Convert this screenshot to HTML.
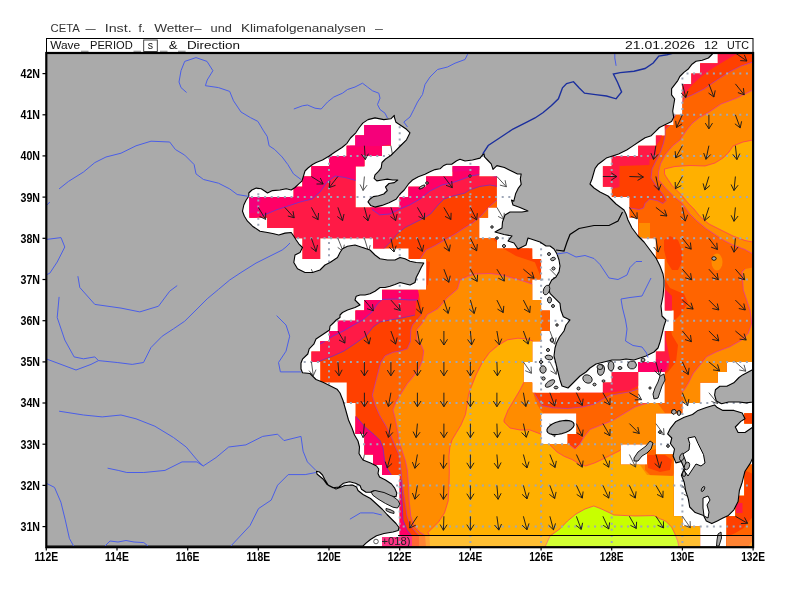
<!DOCTYPE html>
<html><head><meta charset="utf-8"><style>
html,body{margin:0;padding:0;background:#fff;width:800px;height:600px;overflow:hidden}
svg{display:block}
.t{font-family:"Liberation Sans","DejaVu Sans",sans-serif}
</style></head><body>
<svg width="800" height="600" viewBox="0 0 800 600">
<defs><clipPath id="map"><rect x="46.3" y="53.0" width="706.8" height="494.2"/></clipPath>
<clipPath id="mask"><path d="M311.4,166.2 L311.4,176.5 L302.5,176.5 L302.5,186.8 L293.7,186.8 L293.7,197.1 L249.5,197.1 L249.5,217.7 L267.2,217.7 L267.2,228.0 L293.7,228.0 L293.7,238.3 L302.5,238.3 L302.5,258.9 L320.2,258.9 L320.2,238.3 L373.2,238.3 L373.2,248.6 L408.5,248.6 L408.5,258.9 L426.2,258.9 L426.2,289.8 L382.0,289.8 L382.0,300.1 L364.4,300.1 L364.4,310.4 L355.5,310.4 L355.5,320.7 L337.9,320.7 L337.9,331.0 L329.0,331.0 L329.0,341.3 L320.2,341.3 L320.2,351.6 L311.4,351.6 L311.4,361.9 L320.2,361.9 L320.2,382.4 L346.7,382.4 L346.7,403.0 L355.5,403.0 L355.5,433.9 L364.4,433.9 L364.4,454.5 L373.2,454.5 L373.2,464.8 L382.0,464.8 L382.0,475.1 L399.7,475.1 L399.7,536.9 L382.0,536.9 L382.0,547.2 L700.1,547.2 L700.1,526.6 L682.4,526.6 L682.4,516.3 L673.6,516.3 L673.6,454.5 L655.9,454.5 L655.9,413.3 L682.4,413.3 L682.4,403.0 L700.1,403.0 L700.1,382.4 L717.8,382.4 L717.8,372.1 L726.6,372.1 L726.6,361.9 L753.1,361.9 L753.1,53.0 L717.8,53.0 L717.8,63.3 L700.1,63.3 L700.1,73.6 L691.3,73.6 L691.3,83.9 L682.4,83.9 L682.4,114.8 L673.6,114.8 L673.6,125.1 L664.8,125.1 L664.8,135.4 L655.9,135.4 L655.9,145.7 L638.2,145.7 L638.2,155.9 L611.7,155.9 L611.7,166.2 L602.9,166.2 L602.9,186.8 L611.7,186.8 L611.7,197.1 L629.4,197.1 L629.4,217.7 L638.2,217.7 L638.2,238.3 L655.9,238.3 L655.9,258.9 L664.8,258.9 L664.8,310.4 L673.6,310.4 L673.6,331.0 L664.8,331.0 L664.8,351.6 L655.9,351.6 L655.9,361.9 L638.2,361.9 L638.2,372.1 L611.7,372.1 L611.7,382.4 L602.9,382.4 L602.9,392.7 L532.2,392.7 L532.2,382.4 L523.4,382.4 L523.4,361.9 L532.2,361.9 L532.2,341.3 L541.1,341.3 L541.1,331.0 L549.9,331.0 L549.9,310.4 L541.1,310.4 L541.1,300.1 L532.2,300.1 L532.2,279.5 L541.1,279.5 L541.1,258.9 L532.2,258.9 L532.2,248.6 L496.9,248.6 L496.9,238.3 L479.2,238.3 L479.2,217.7 L488.1,217.7 L488.1,207.4 L496.9,207.4 L496.9,176.5 L479.2,176.5 L479.2,166.2 L452.7,166.2 L452.7,176.5 L426.2,176.5 L426.2,186.8 L408.5,186.8 L408.5,197.1 L399.7,197.1 L399.7,207.4 L355.5,207.4 L355.5,166.2 L364.4,166.2 L364.4,155.9 L382.0,155.9 L382.0,145.7 L390.9,145.7 L390.9,125.1 L364.4,125.1 L364.4,135.4 L355.5,135.4 L355.5,145.7 L346.7,145.7 L346.7,155.9 L329.0,155.9 L329.0,166.2Z M638.2,372.1 L664.8,372.1 L664.8,403.0 L638.2,403.0Z M620.6,444.2 L647.1,444.2 L647.1,464.8 L620.6,464.8Z M541.1,444.2 L541.1,413.3 L576.4,413.3 L576.4,433.9 L567.6,433.9 L567.6,444.2Z M753.1,423.6 L753.1,413.3 L744.3,413.3 L744.3,423.6Z M726.6,516.3 L726.6,547.2 L753.1,547.2 L753.1,464.8 L744.3,464.8 L744.3,495.7 L735.4,495.7 L735.4,516.3Z"/></clipPath></defs>
<g clip-path="url(#map)">
<rect x="46.3" y="53.0" width="706.8" height="494.2" fill="#fff"/>
<g clip-path="url(#mask)">
<rect x="46.3" y="53.0" width="706.8" height="494.2" fill="#ff4000"/>
<polygon points="412.0,547.0 412.0,536.0 407.0,530.0 403.0,520.0 402.0,500.0 401.0,480.0 392.0,476.0 388.0,470.0 384.5,460.0 383.0,448.0 380.0,440.5 374.0,434.5 365.0,427.0 356.0,416.5 300.0,416.0 300.0,366.0 310.0,366.0 320.0,361.0 333.0,356.0 344.0,351.0 356.0,343.0 367.0,335.0 373.0,327.0 380.0,322.0 390.0,320.0 402.0,318.0 415.0,315.0 416.0,305.0 417.0,290.0 425.0,285.0 425.0,262.0 400.0,262.0 395.0,250.0 384.0,248.5 390.0,242.5 397.5,233.5 405.0,227.5 414.0,223.0 423.0,218.5 430.5,214.0 438.0,205.0 444.0,199.0 453.0,196.0 465.0,193.0 469.5,190.0 479.5,186.5 490.0,185.0 500.0,187.0 515.0,195.0 520.0,100.0 46.0,53.0 46.0,547.0" fill="#ff1a46"/>
<polygon points="560.0,393.0 603.0,393.0 615.0,392.0 630.0,390.0 640.0,385.0 650.0,378.0 660.0,372.0 668.0,370.0 670.0,360.0 668.0,350.0 666.0,340.0 666.0,320.0 672.0,310.0 672.0,296.0 666.0,290.0 600.0,300.0 560.0,380.0" fill="#ff1a46"/>
<polygon points="740.0,53.0 733.0,56.0 723.0,62.0 713.0,68.0 702.0,76.0 693.0,84.0 686.0,92.0 680.0,100.0 665.0,128.0 660.0,140.0 656.0,146.0 656.0,157.0 649.5,160.0 649.5,165.0 619.5,166.0 619.5,187.0 600.0,192.0 590.0,150.0 700.0,53.0" fill="#ff1a46"/>
<polygon points="240.0,222.0 262.0,216.0 276.0,210.0 288.0,206.0 300.0,202.0 312.0,199.0 320.0,192.0 327.0,182.0 335.0,176.0 345.0,177.5 356.0,180.5 368.0,190.0 380.0,150.0 420.0,100.0 240.0,100.0" fill="#ff0066"/>
<polygon points="368.0,205.0 372.0,209.5 379.5,214.8 390.0,214.0 399.0,209.5 409.5,205.0 420.0,199.0 430.0,191.0 442.0,185.0 452.5,182.7 463.0,179.0 470.5,176.0 479.5,174.5 490.0,175.0 500.0,178.0 510.0,185.0 510.0,150.0 368.0,150.0" fill="#ff0066"/>
<polygon points="300.0,356.0 310.0,350.0 322.0,343.0 333.0,336.0 344.0,330.7 353.0,325.3 362.7,320.0 372.0,312.0 377.3,304.0 382.0,299.5 395.0,299.0 410.0,300.0 418.0,300.0 420.0,290.0 330.0,290.0 300.0,330.0" fill="#ff0066"/>
<polygon points="356.0,416.5 365.0,427.0 374.0,434.5 380.0,440.5 383.0,448.0 384.5,460.0 388.0,470.0 392.0,476.0 401.0,480.0 402.0,500.0 403.0,520.0 407.0,530.0 412.0,536.0 412.0,547.0 340.0,547.0 340.0,410.0" fill="#ff0066"/>
<polygon points="638.0,372.0 665.0,372.0 668.0,362.0 640.0,355.0 638.0,362.0" fill="#ff0066"/>
<polygon points="350.0,147.0 365.0,146.0 380.0,146.0 395.0,144.0 400.0,110.0 350.0,110.0" fill="#f5007a"/>
<polygon points="246.0,196.0 262.0,196.0 258.0,212.0 246.0,214.0" fill="#f5007a"/>
<polygon points="450.0,172.0 482.0,170.0 482.0,160.0 450.0,160.0" fill="#f5007a"/>
<polygon points="419.0,547.0 419.0,535.5 416.0,532.5 410.0,525.0 407.0,516.0 404.8,501.0 402.5,486.0 401.0,471.0 399.5,456.0 395.0,446.0 391.0,436.0 386.0,426.0 380.0,416.0 375.0,405.0 372.3,395.3 375.8,381.3 378.2,372.0 380.5,362.7 385.2,355.7 393.3,352.2 400.0,351.0 405.0,349.5 407.3,348.7 410.3,341.7 410.8,330.0 412.5,325.0 417.0,320.0 421.5,314.5 420.0,300.0 418.0,290.0 428.0,285.0 430.0,262.0 420.0,259.0 426.0,250.0 435.0,245.5 445.5,239.5 456.0,233.5 465.0,227.5 472.5,223.0 480.0,217.0 490.0,206.0 497.0,200.0 530.0,250.0 550.0,300.0 555.0,360.0 545.0,385.0 534.5,393.5 542.0,405.5 552.5,407.8 567.5,408.5 582.5,407.0 594.5,404.0 602.0,399.5 611.0,395.0 620.0,393.5 629.0,392.0 638.0,389.0 644.0,386.0 655.0,382.0 668.0,372.0 676.0,362.0 678.0,345.0 672.0,335.0 670.0,325.0 680.0,315.0 688.0,303.0 684.0,294.0 670.0,288.0 665.0,280.0 650.0,250.0 630.0,215.0 630.0,208.0 639.0,209.5 643.5,208.0 645.0,203.5 649.5,199.0 657.0,200.5 663.0,203.5 666.0,200.5 663.0,194.5 657.0,187.0 651.0,178.0 652.0,169.0 656.0,161.0 660.5,152.0 663.5,143.0 665.0,135.5 665.0,129.5 670.0,125.0 684.5,98.0 692.0,95.0 704.0,89.0 717.0,80.0 729.0,72.0 741.0,66.0 753.0,62.0 753.0,547.0" fill="#ff6400"/>
<polygon points="494.0,240.0 504.0,249.0 516.0,256.0 528.0,260.0 540.0,264.0 548.0,262.0 545.0,235.0 494.0,228.0" fill="#ff4000"/>
<polygon points="664.0,240.0 670.0,236.0 678.0,240.0 682.0,250.0 682.0,262.0 678.0,270.0 672.0,270.0 667.0,262.0 664.0,250.0" fill="#ff4000"/>
<polygon points="568.0,434.0 578.0,434.0 584.0,440.0 582.0,448.0 575.0,449.0 568.0,444.0" fill="#ff4000"/>
<polygon points="426.0,547.0 425.0,535.5 420.5,532.5 414.5,526.5 410.8,516.0 409.2,501.0 408.5,486.0 407.5,471.0 405.5,461.0 402.5,452.0 399.5,443.0 398.0,432.5 396.5,425.0 395.0,417.5 393.0,410.0 396.0,402.0 401.5,393.0 407.3,383.7 413.2,376.7 419.0,368.5 422.5,360.3 423.7,351.0 421.3,345.2 416.7,339.3 417.0,329.5 423.0,322.0 427.5,314.5 438.0,308.5 447.0,298.0 457.5,289.0 460.0,280.0 467.5,276.5 475.0,274.0 490.0,273.5 502.0,275.0 512.5,278.0 523.0,281.0 532.0,284.0 545.0,286.0 545.0,305.0 541.0,305.0 541.0,331.0 560.0,331.0 560.0,390.0 533.0,392.0 536.0,402.5 540.5,410.0 545.0,415.0 545.0,440.0 567.5,443.0 575.0,449.0 579.5,444.5 584.0,437.0 590.0,429.5 597.5,426.5 605.0,423.5 612.5,420.5 620.0,416.0 627.5,411.5 635.0,407.0 644.0,404.0 650.0,402.5 657.0,402.5 665.0,413.0 753.0,413.0 753.0,547.0" fill="#ff8c00"/>
<polygon points="753.0,267.5 745.0,269.0 742.0,272.0 743.3,290.0 746.7,300.0 750.0,310.0 751.7,323.3 748.3,333.3 741.7,340.0 730.0,346.7 716.7,351.7 706.7,356.7 700.0,365.0 693.3,373.3 688.3,383.3 684.0,390.0 681.7,392.0 684.0,402.5 690.0,412.0 753.0,412.0" fill="#ff8c00"/>
<polygon points="753.0,90.0 737.0,98.0 721.0,104.0 710.0,111.5 699.5,117.5 692.0,123.5 686.0,131.0 680.0,140.0 672.5,146.0 665.0,155.0 660.5,164.0 658.5,172.0 658.5,179.5 666.0,188.5 675.0,197.5 682.0,203.0 689.5,213.5 697.0,221.0 706.0,228.5 715.0,234.5 724.0,240.5 733.0,245.0 745.0,249.5 753.0,254.0" fill="#ff8c00"/>
<polygon points="639.0,223.0 650.0,223.0 650.0,238.0 639.0,238.0" fill="#ff8c00"/>
<polygon points="645.0,452.0 660.0,448.0 674.0,452.0 676.0,470.0 670.0,480.0 655.0,480.0 645.0,470.0" fill="#ff6400"/>
<polygon points="647.0,455.0 665.0,455.0 672.0,460.0 670.0,470.0 660.0,472.0 648.0,468.0" fill="#ff4000"/>
<polygon points="744.0,413.0 753.0,413.0 753.0,547.0 726.0,547.0 726.0,516.0 735.0,516.0 735.0,496.0 744.0,496.0" fill="#ff4000"/>
<polygon points="726.0,537.0 735.0,533.3 743.3,528.3 748.3,521.7 753.0,516.7 753.0,547.0 726.0,547.0" fill="#ff6400"/>
<polygon points="744.0,464.0 753.0,464.0 753.0,474.0 744.0,470.0" fill="#ff6400"/>
<polygon points="736.0,503.0 742.5,503.0 742.5,513.0 736.0,513.0" fill="#ff1a46"/>
<polygon points="748.0,547.0 753.0,540.0 753.0,547.0" fill="#ff8c00"/>
<polygon points="430.0,547.0 429.5,535.5 428.0,532.5 431.0,529.5 438.5,522.0 444.5,513.0 448.2,501.0 449.0,486.0 449.3,471.0 449.0,456.0 449.8,447.5 452.0,440.0 456.5,432.5 461.0,425.0 465.5,414.5 467.0,405.5 468.5,395.0 470.0,390.0 476.0,375.0 482.0,363.0 489.5,352.5 498.5,345.0 507.5,339.8 518.0,338.2 527.0,339.0 533.0,341.0 545.0,343.0 545.0,380.0 533.0,381.0 524.0,382.0 520.0,390.0 514.0,400.0 508.0,410.0 504.0,420.0 504.0,422.0 510.0,428.0 520.0,430.0 530.0,430.0 540.5,434.0 549.5,444.5 557.0,452.0 564.5,456.5 572.0,459.5 579.5,464.0 585.5,466.0 594.5,463.0 602.0,459.5 611.0,455.0 620.0,450.5 622.0,448.0 640.0,465.0 647.0,475.0 674.0,476.0 676.0,500.0 700.0,520.0 700.0,547.0" fill="#ffb000"/>
<polygon points="753.0,140.0 743.0,142.0 733.0,146.0 729.0,152.0 723.0,158.0 715.0,163.0 705.0,166.0 690.0,165.5 675.0,166.5 664.5,169.0 664.5,174.0 666.0,176.5 672.0,185.5 681.0,194.5 688.0,203.0 694.0,209.0 700.0,216.5 709.0,224.0 721.0,230.0 733.0,236.0 745.0,240.5 753.0,242.0" fill="#ffb000"/>
<polygon points="722.5,262.0 722.1,265.3 720.9,268.0 719.1,269.9 717.0,270.5 714.9,269.9 713.1,268.0 711.9,265.3 711.5,262.0 711.9,258.7 713.1,256.0 714.9,254.1 717.0,253.5 719.1,254.1 720.9,256.0 722.1,258.7" fill="#ff8c00"/>
<polygon points="545.0,547.0 550.0,536.0 560.0,528.8 567.5,521.0 576.0,514.0 585.0,509.0 593.8,506.0 601.0,508.8 610.0,513.0 613.8,515.0 635.0,516.0 654.0,515.6 660.0,518.8 665.5,521.0 671.5,527.0 674.5,533.0 677.5,540.5 679.0,547.0" fill="#c8ff00"/>
<polyline points="429.5,535.5 428.0,532.5 431.0,529.5 438.5,522.0 444.5,513.0 448.2,501.0 449.0,486.0 449.3,471.0 449.0,456.0 449.8,447.5 452.0,440.0 456.5,432.5 461.0,425.0 465.5,414.5 467.0,405.5 468.5,395.0 470.0,390.0 476.0,375.0 482.0,363.0 489.5,352.5 498.5,345.0 507.5,339.8 518.0,338.2 527.0,339.0 533.0,341.0" fill="none" stroke="#ff2a6a" stroke-width="0.8" stroke-opacity="0.85"/>
<polyline points="524.0,382.0 520.0,390.0 514.0,400.0 508.0,410.0 504.0,420.0 504.0,422.0 510.0,428.0 520.0,430.0 530.0,430.0 540.5,434.0 549.5,444.5 557.0,452.0 564.5,456.5 572.0,459.5 579.5,464.0 585.5,466.0 594.5,463.0 602.0,459.5 611.0,455.0 620.0,450.5 622.0,448.0" fill="none" stroke="#ff2a6a" stroke-width="0.8" stroke-opacity="0.85"/>
<polyline points="753.0,140.0 743.0,142.0 733.0,146.0 729.0,152.0 723.0,158.0 715.0,163.0 705.0,166.0 690.0,165.5 675.0,166.5 664.5,169.0 664.5,174.0 666.0,176.5 672.0,185.5 681.0,194.5 688.0,203.0 694.0,209.0 700.0,216.5 709.0,224.0 721.0,230.0 733.0,236.0 745.0,240.5 753.0,242.0" fill="none" stroke="#ff2a6a" stroke-width="0.8" stroke-opacity="0.85"/>
<polyline points="425.0,535.5 420.5,532.5 414.5,526.5 410.8,516.0 409.2,501.0 408.5,486.0 407.5,471.0 405.5,461.0 402.5,452.0 399.5,443.0 398.0,432.5 396.5,425.0 395.0,417.5 393.0,410.0 396.0,402.0 401.5,393.0 407.3,383.7 413.2,376.7 419.0,368.5 422.5,360.3 423.7,351.0 421.3,345.2 416.7,339.3 417.0,329.5 423.0,322.0 427.5,314.5 438.0,308.5 447.0,298.0 457.5,289.0 460.0,280.0 467.5,276.5 475.0,274.0 490.0,273.5 502.0,275.0 512.5,278.0 523.0,281.0 532.0,284.0" fill="none" stroke="#e030b0" stroke-width="0.8" stroke-opacity="0.85"/>
<polyline points="567.5,443.0 575.0,449.0 579.5,444.5 584.0,437.0 590.0,429.5 597.5,426.5 605.0,423.5 612.5,420.5 620.0,416.0 627.5,411.5 635.0,407.0 644.0,404.0 650.0,402.5 657.0,402.5" fill="none" stroke="#e030b0" stroke-width="0.8" stroke-opacity="0.85"/>
<polyline points="745.0,269.0 742.0,272.0 743.3,290.0 746.7,300.0 750.0,310.0 751.7,323.3 748.3,333.3 741.7,340.0 730.0,346.7 716.7,351.7 706.7,356.7 700.0,365.0 693.3,373.3 688.3,383.3 684.0,390.0 681.7,392.0" fill="none" stroke="#e030b0" stroke-width="0.8" stroke-opacity="0.85"/>
<polyline points="753.0,90.0 737.0,98.0 721.0,104.0 710.0,111.5 699.5,117.5 692.0,123.5 686.0,131.0 680.0,140.0 672.5,146.0 665.0,155.0 660.5,164.0 658.5,172.0 658.5,179.5 666.0,188.5 675.0,197.5 682.0,203.0 689.5,213.5 697.0,221.0 706.0,228.5 715.0,234.5 724.0,240.5 733.0,245.0 745.0,249.5 753.0,254.0" fill="none" stroke="#e030b0" stroke-width="0.8" stroke-opacity="0.85"/>
<polyline points="419.0,535.5 416.0,532.5 410.0,525.0 407.0,516.0 404.8,501.0 402.5,486.0 401.0,471.0 399.5,456.0 395.0,446.0 391.0,436.0 386.0,426.0 380.0,416.0 375.0,405.0 372.3,395.3 375.8,381.3 378.2,372.0 380.5,362.7 385.2,355.7 393.3,352.2 400.0,351.0 405.0,349.5 407.3,348.7 410.3,341.7 410.8,330.0 412.5,325.0 417.0,320.0 421.5,314.5" fill="none" stroke="#b030d0" stroke-width="0.8" stroke-opacity="0.85"/>
<polyline points="420.0,259.0 426.0,250.0 435.0,245.5 445.5,239.5 456.0,233.5 465.0,227.5 472.5,223.0 480.0,217.0 490.0,206.0 497.0,200.0" fill="none" stroke="#b030d0" stroke-width="0.8" stroke-opacity="0.85"/>
<polyline points="534.5,393.5 542.0,405.5 552.5,407.8 567.5,408.5 582.5,407.0 594.5,404.0 602.0,399.5 611.0,395.0 620.0,393.5 629.0,392.0 638.0,389.0 644.0,386.0" fill="none" stroke="#b030d0" stroke-width="0.8" stroke-opacity="0.85"/>
<polyline points="630.0,208.0 639.0,209.5 643.5,208.0 645.0,203.5 649.5,199.0 657.0,200.5 663.0,203.5 666.0,200.5 663.0,194.5 657.0,187.0 651.0,178.0 652.0,169.0 656.0,161.0 660.5,152.0 663.5,143.0 665.0,135.5 665.0,129.5 670.0,125.0 684.5,98.0 692.0,95.0 704.0,89.0 717.0,80.0 729.0,72.0 741.0,66.0 753.0,62.0" fill="none" stroke="#b030d0" stroke-width="0.8" stroke-opacity="0.85"/>
<polyline points="545.0,547.0 550.0,536.0 560.0,528.8 567.5,521.0 576.0,514.0 585.0,509.0 593.8,506.0 601.0,508.8 610.0,513.0 613.8,515.0 635.0,516.0 654.0,515.6 660.0,518.8 665.5,521.0 671.5,527.0 674.5,533.0 677.5,540.5 679.0,547.0" fill="none" stroke="#ff2a6a" stroke-width="0.8" stroke-opacity="0.85"/>
<polyline points="412.0,536.0 407.0,530.0 403.0,520.0 402.0,500.0 401.0,480.0 392.0,476.0 388.0,470.0 384.5,460.0 383.0,448.0 380.0,440.5 374.0,434.5 365.0,427.0 356.0,416.5" fill="none" stroke="#5a30e0" stroke-width="0.8" stroke-opacity="0.85"/>
<polyline points="310.0,366.0 320.0,361.0 333.0,356.0 344.0,351.0 356.0,343.0 367.0,335.0 373.0,327.0 380.0,322.0 390.0,320.0 402.0,318.0 415.0,315.0" fill="none" stroke="#5a30e0" stroke-width="0.8" stroke-opacity="0.85"/>
<polyline points="384.0,248.5 390.0,242.5 397.5,233.5 405.0,227.5 414.0,223.0 423.0,218.5 430.5,214.0 438.0,205.0 444.0,199.0 453.0,196.0 465.0,193.0 469.5,190.0 479.5,186.5 490.0,185.0 500.0,187.0" fill="none" stroke="#5a30e0" stroke-width="0.8" stroke-opacity="0.85"/>
<polyline points="262.0,216.0 276.0,210.0 288.0,206.0 300.0,202.0 312.0,199.0 320.0,192.0 327.0,182.0 335.0,176.0 345.0,177.5 356.0,180.5" fill="none" stroke="#4a3cf0" stroke-width="0.8" stroke-opacity="0.85"/>
<polyline points="372.0,209.5 379.5,214.8 390.0,214.0 399.0,209.5 409.5,205.0 420.0,199.0 430.0,191.0 442.0,185.0 452.5,182.7 463.0,179.0 470.5,176.0 479.5,174.5 490.0,175.0 500.0,178.0" fill="none" stroke="#4a3cf0" stroke-width="0.8" stroke-opacity="0.85"/>
<polyline points="310.0,350.0 322.0,343.0 333.0,336.0 344.0,330.7 353.0,325.3 362.7,320.0 372.0,312.0 377.3,304.0 382.0,299.5 395.0,299.0 410.0,300.0 418.0,300.0" fill="none" stroke="#4a3cf0" stroke-width="0.8" stroke-opacity="0.85"/>
<rect x="380" y="536" width="374" height="12" fill="#fff" fill-opacity="0.2"/>
</g>
<g stroke="#9ea7b8" stroke-width="2" stroke-dasharray="2 4.6"><line x1="46.3" y1="526.6" x2="753.1" y2="526.6"/><line x1="46.3" y1="485.4" x2="753.1" y2="485.4"/><line x1="46.3" y1="444.2" x2="753.1" y2="444.2"/><line x1="46.3" y1="403.0" x2="753.1" y2="403.0"/><line x1="46.3" y1="361.9" x2="753.1" y2="361.9"/><line x1="46.3" y1="320.7" x2="753.1" y2="320.7"/><line x1="46.3" y1="279.5" x2="753.1" y2="279.5"/><line x1="46.3" y1="238.3" x2="753.1" y2="238.3"/><line x1="46.3" y1="197.1" x2="753.1" y2="197.1"/><line x1="46.3" y1="155.9" x2="753.1" y2="155.9"/><line x1="46.3" y1="114.8" x2="753.1" y2="114.8"/><line x1="46.3" y1="73.6" x2="753.1" y2="73.6"/></g><g stroke="#9ea7b8" stroke-width="2" stroke-dasharray="2 4.1"><line x1="117.0" y1="53.0" x2="117.0" y2="547.2"/><line x1="187.7" y1="53.0" x2="187.7" y2="547.2"/><line x1="258.3" y1="53.0" x2="258.3" y2="547.2"/><line x1="329.0" y1="53.0" x2="329.0" y2="547.2"/><line x1="399.7" y1="53.0" x2="399.7" y2="547.2"/><line x1="470.4" y1="53.0" x2="470.4" y2="547.2"/><line x1="541.1" y1="53.0" x2="541.1" y2="547.2"/><line x1="611.7" y1="53.0" x2="611.7" y2="547.2"/><line x1="682.4" y1="53.0" x2="682.4" y2="547.2"/></g>
<path d="M258.3,207.4L265.6,219.4M265.6,219.4l0.1,-6.7M265.6,219.4l-6.0,-3.0 M284.8,207.4L294.2,217.8M294.2,217.8l-1.2,-6.6M294.2,217.8l-6.4,-1.8 M311.4,176.5L323.2,184.0M323.2,184.0l-2.9,-6.0M323.2,184.0l-6.7,0.0 M311.4,207.4L318.1,219.7M318.1,219.7l0.4,-6.7M318.1,219.7l-5.9,-3.2 M311.4,238.3L316.1,251.5M316.1,251.5l1.4,-6.6M316.1,251.5l-5.3,-4.1 M337.9,176.5L329.2,187.6M329.2,187.6l6.3,-2.3M329.2,187.6l0.7,-6.7 M337.9,207.4L342.6,220.6M342.6,220.6l1.4,-6.6M342.6,220.6l-5.3,-4.1 M337.9,331.0L344.9,343.1M344.9,343.1l0.2,-6.7M344.9,343.1l-5.9,-3.1 M337.9,361.9L339.1,375.8M339.1,375.8l3.0,-6.0M339.1,375.8l-4.0,-5.4 M364.4,145.7L365.3,159.6M365.3,159.6l3.1,-5.9M365.3,159.6l-3.9,-5.4 M364.4,207.4L368.0,220.9M368.0,220.9l2.0,-6.4M368.0,220.9l-4.9,-4.6 M364.4,300.1L373.4,310.8M373.4,310.8l-0.9,-6.6M373.4,310.8l-6.4,-2.1 M364.4,331.0L369.1,344.1M369.1,344.1l1.4,-6.6M369.1,344.1l-5.3,-4.1 M364.4,361.9L364.4,375.9M364.4,375.9l3.6,-5.7M364.4,375.9l-3.6,-5.7 M364.4,392.7L364.4,406.7M364.4,406.7l3.6,-5.7M364.4,406.7l-3.6,-5.7 M364.4,423.6L363.1,437.6M363.1,437.6l4.0,-5.4M363.1,437.6l-3.0,-6.0 M390.9,207.4L395.7,220.6M395.7,220.6l1.4,-6.6M395.7,220.6l-5.3,-4.1 M390.9,238.3L394.0,252.0M394.0,252.0l2.2,-6.3M394.0,252.0l-4.7,-4.7 M390.9,300.1L400.3,310.5M400.3,310.5l-1.2,-6.6M400.3,310.5l-6.4,-1.8 M390.9,331.0L395.7,344.1M395.7,344.1l1.4,-6.6M395.7,344.1l-5.3,-4.1 M390.9,361.9L390.9,375.8M390.9,375.8l3.6,-5.7M390.9,375.8l-3.6,-5.7 M390.9,392.7L388.4,406.5M388.4,406.5l4.5,-5.0M388.4,406.5l-2.5,-6.2 M390.9,423.6L388.4,437.4M388.4,437.4l4.5,-5.0M388.4,437.4l-2.5,-6.2 M390.9,454.5L387.2,468.0M387.2,468.0l4.9,-4.6M387.2,468.0l-2.0,-6.4 M390.9,547.2L385.0,559.9M385.0,559.9l5.6,-3.7M385.0,559.9l-0.9,-6.6 M417.4,207.4L424.4,219.5M424.4,219.5l0.2,-6.7M424.4,219.5l-5.9,-3.1 M417.4,238.3L422.4,251.4M422.4,251.4l1.3,-6.6M422.4,251.4l-5.4,-4.0 M417.4,300.1L421.3,313.5M421.3,313.5l1.8,-6.4M421.3,313.5l-5.0,-4.5 M417.4,331.0L419.8,344.8M419.8,344.8l2.5,-6.2M419.8,344.8l-4.5,-5.0 M417.4,361.9L417.4,375.8M417.4,375.8l3.6,-5.7M417.4,375.8l-3.6,-5.7 M417.4,392.7L417.4,406.7M417.4,406.7l3.6,-5.7M417.4,406.7l-3.5,-5.7 M417.4,423.6L416.1,437.6M416.1,437.6l4.0,-5.4M416.1,437.6l-3.0,-6.0 M417.4,454.5L414.9,468.3M414.9,468.3l4.5,-5.0M414.9,468.3l-2.5,-6.2 M417.4,485.4L414.9,499.2M414.9,499.2l4.5,-5.0M414.9,499.2l-2.5,-6.2 M417.4,516.3L409.7,528.0M409.7,528.0l6.1,-2.8M409.7,528.0l0.2,-6.7 M417.4,547.2L412.9,560.4M412.9,560.4l5.2,-4.2M412.9,560.4l-1.5,-6.5 M443.9,176.5L452.3,187.7M452.3,187.7l-0.6,-6.7M452.3,187.7l-6.3,-2.4 M443.9,207.4L450.9,219.5M450.9,219.5l0.2,-6.7M450.9,219.5l-5.9,-3.1 M443.9,238.3L449.3,251.2M449.3,251.2l1.0,-6.6M449.3,251.2l-5.5,-3.8 M443.9,269.2L448.9,282.3M448.9,282.3l1.3,-6.6M448.9,282.3l-5.4,-4.0 M443.9,300.1L448.2,313.4M448.2,313.4l1.6,-6.5M448.2,313.4l-5.1,-4.3 M443.9,331.0L443.9,345.0M443.9,345.0l3.6,-5.7M443.9,345.0l-3.6,-5.7 M443.9,361.9L443.9,375.8M443.9,375.8l3.6,-5.7M443.9,375.8l-3.6,-5.7 M443.9,392.7L443.9,406.7M443.9,406.7l3.6,-5.7M443.9,406.7l-3.6,-5.7 M443.9,423.6L443.9,437.6M443.9,437.6l3.6,-5.7M443.9,437.6l-3.6,-5.7 M443.9,454.5L443.4,468.5M443.4,468.5l3.7,-5.6M443.4,468.5l-3.3,-5.8 M443.9,485.4L443.4,499.4M443.4,499.4l3.7,-5.6M443.4,499.4l-3.3,-5.8 M443.9,516.3L443.4,530.3M443.4,530.3l3.7,-5.6M443.4,530.3l-3.3,-5.8 M443.9,547.2L442.9,561.1M442.9,561.1l3.9,-5.4M442.9,561.1l-3.1,-5.9 M470.4,207.4L476.7,219.9M476.7,219.9l0.6,-6.7M476.7,219.9l-5.7,-3.5 M470.4,238.3L476.7,250.8M476.7,250.8l0.6,-6.7M476.7,250.8l-5.7,-3.5 M470.4,269.2L477.2,281.4M477.2,281.4l0.4,-6.7M477.2,281.4l-5.9,-3.2 M470.4,300.1L474.2,313.5M474.2,313.5l1.8,-6.4M474.2,313.5l-5.0,-4.5 M470.4,331.0L471.6,344.9M471.6,344.9l3.0,-6.0M471.6,344.9l-4.0,-5.4 M470.4,361.9L470.4,375.9M470.4,375.9l3.6,-5.7M470.4,375.9l-3.6,-5.7 M470.4,392.7L470.4,406.7M470.4,406.7l3.6,-5.7M470.4,406.7l-3.6,-5.7 M470.4,423.6L470.4,437.6M470.4,437.6l3.6,-5.7M470.4,437.6l-3.6,-5.7 M470.4,454.5L470.4,468.5M470.4,468.5l3.6,-5.7M470.4,468.5l-3.6,-5.7 M470.4,485.4L470.4,499.4M470.4,499.4l3.6,-5.7M470.4,499.4l-3.6,-5.7 M470.4,516.3L470.4,530.3M470.4,530.3l3.6,-5.7M470.4,530.3l-3.6,-5.7 M470.4,547.2L470.7,561.2M470.7,561.2l3.4,-5.8M470.7,561.2l-3.7,-5.6 M496.9,269.2L504.3,281.1M504.3,281.1l0.0,-6.7M504.3,281.1l-6.0,-2.9 M496.9,300.1L503.2,312.6M503.2,312.6l0.6,-6.7M503.2,312.6l-5.7,-3.5 M496.9,331.0L499.3,344.8M499.3,344.8l2.5,-6.2M499.3,344.8l-4.5,-5.0 M496.9,361.9L497.4,375.8M497.4,375.8l3.3,-5.8M497.4,375.8l-3.7,-5.6 M496.9,392.7L496.9,406.7M496.9,406.7l3.6,-5.7M496.9,406.7l-3.6,-5.7 M496.9,423.6L497.4,437.6M497.4,437.6l3.3,-5.8M497.4,437.6l-3.7,-5.6 M496.9,454.5L498.1,468.5M498.1,468.5l3.0,-6.0M498.1,468.5l-4.0,-5.4 M496.9,485.4L498.1,499.3M498.1,499.3l3.0,-6.0M498.1,499.3l-4.0,-5.4 M496.9,516.3L498.8,530.1M498.8,530.1l2.7,-6.1M498.8,530.1l-4.3,-5.1 M496.9,547.2L498.7,561.0M498.7,561.0l2.8,-6.1M498.7,561.0l-4.2,-5.2 M523.4,269.2L534.1,278.2M534.1,278.2l-2.1,-6.4M534.1,278.2l-6.6,-0.9 M523.4,300.1L529.8,312.5M529.8,312.5l0.5,-6.7M529.8,312.5l-5.8,-3.4 M523.4,331.0L528.2,344.1M528.2,344.1l1.4,-6.6M528.2,344.1l-5.3,-4.1 M523.4,392.7L525.8,406.5M525.8,406.5l2.5,-6.2M525.8,406.5l-4.5,-5.0 M523.4,423.6L526.3,437.3M526.3,437.3l2.3,-6.3M526.3,437.3l-4.7,-4.8 M523.4,454.5L527.0,468.0M527.0,468.0l2.0,-6.4M527.0,468.0l-4.9,-4.6 M523.4,485.4L527.0,498.9M527.0,498.9l2.0,-6.4M527.0,498.9l-4.9,-4.6 M523.4,516.3L527.0,529.8M527.0,529.8l2.0,-6.4M527.0,529.8l-4.9,-4.6 M523.4,547.2L526.5,560.8M526.5,560.8l2.2,-6.3M526.5,560.8l-4.7,-4.8 M549.9,392.7L554.7,405.9M554.7,405.9l1.4,-6.6M554.7,405.9l-5.3,-4.1 M549.9,454.5L555.1,467.5M555.1,467.5l1.2,-6.6M555.1,467.5l-5.4,-3.9 M549.9,485.4L554.7,498.5M554.7,498.5l1.4,-6.6M554.7,498.5l-5.3,-4.1 M549.9,516.3L553.5,529.8M553.5,529.8l2.0,-6.4M553.5,529.8l-4.9,-4.6 M549.9,547.2L553.7,560.6M553.7,560.6l1.9,-6.4M553.7,560.6l-4.9,-4.5 M576.4,392.7L582.3,405.4M582.3,405.4l0.8,-6.7M582.3,405.4l-5.6,-3.6 M576.4,423.6L582.3,436.3M582.3,436.3l0.8,-6.7M582.3,436.3l-5.6,-3.6 M576.4,454.5L582.3,467.2M582.3,467.2l0.8,-6.6M582.3,467.2l-5.6,-3.7 M576.4,485.4L582.3,498.1M582.3,498.1l0.8,-6.6M582.3,498.1l-5.6,-3.7 M576.4,516.3L581.2,529.4M581.2,529.4l1.4,-6.6M581.2,529.4l-5.3,-4.1 M576.4,547.2L581.0,560.4M581.0,560.4l1.5,-6.5M581.0,560.4l-5.2,-4.2 M602.9,176.5L616.9,176.5M616.9,176.5l-5.7,-3.6M616.9,176.5l-5.7,3.6 M602.9,392.7L609.9,404.9M609.9,404.9l0.2,-6.7M609.9,404.9l-5.9,-3.1 M602.9,423.6L609.9,435.7M609.9,435.7l0.2,-6.7M609.9,435.7l-5.9,-3.1 M602.9,454.5L608.8,467.2M608.8,467.2l0.8,-6.7M608.8,467.2l-5.6,-3.6 M602.9,485.4L608.8,498.1M608.8,498.1l0.8,-6.6M608.8,498.1l-5.6,-3.7 M602.9,516.3L608.8,529.0M608.8,529.0l0.8,-6.6M608.8,529.0l-5.6,-3.7 M602.9,547.2L608.4,560.0M608.4,560.0l1.0,-6.6M608.4,560.0l-5.5,-3.8 M629.4,176.5L643.4,177.0M643.4,177.0l-5.6,-3.7M643.4,177.0l-5.8,3.4 M629.4,207.4L637.2,219.0M637.2,219.0l-0.2,-6.7M637.2,219.0l-6.1,-2.7 M629.4,392.7L641.5,399.7M641.5,399.7l-3.1,-5.9M641.5,399.7l-6.7,0.2 M629.4,423.6L639.3,433.5M639.3,433.5l-1.5,-6.5M639.3,433.5l-6.5,-1.5 M629.4,485.4L635.3,498.1M635.3,498.1l0.8,-6.7M635.3,498.1l-5.6,-3.6 M629.4,516.3L636.3,528.5M636.3,528.5l0.3,-6.7M636.3,528.5l-5.9,-3.2 M629.4,547.2L635.8,559.6M635.8,559.6l0.5,-6.7M635.8,559.6l-5.8,-3.4 M655.9,145.7L653.5,159.4M653.5,159.4l4.5,-5.0M653.5,159.4l-2.5,-6.2 M655.9,176.5L658.8,190.2M658.8,190.2l2.3,-6.3M658.8,190.2l-4.7,-4.8 M655.9,207.4L666.9,216.0M666.9,216.0l-2.3,-6.3M666.9,216.0l-6.7,-0.7 M655.9,238.3L658.1,252.1M658.1,252.1l2.6,-6.2M658.1,252.1l-4.4,-5.1 M655.9,361.9L659.5,375.4M659.5,375.4l2.0,-6.4M659.5,375.4l-4.9,-4.6 M655.9,454.5L659.7,468.0M659.7,468.0l1.9,-6.4M659.7,468.0l-5.0,-4.5 M655.9,485.4L662.9,497.5M662.9,497.5l0.2,-6.7M662.9,497.5l-5.9,-3.1 M655.9,516.3L663.6,528.0M663.6,528.0l-0.2,-6.7M663.6,528.0l-6.1,-2.8 M655.9,547.2L663.1,559.1M663.1,559.1l0.1,-6.7M663.1,559.1l-6.0,-3.0 M682.4,83.9L685.8,97.5M685.8,97.5l2.1,-6.4M685.8,97.5l-4.8,-4.7 M682.4,114.8L676.5,127.5M676.5,127.5l5.6,-3.6M676.5,127.5l-0.8,-6.7 M682.4,145.7L675.6,157.9M675.6,157.9l5.9,-3.2M675.6,157.9l-0.4,-6.7 M682.4,176.5L675.4,188.7M675.4,188.7l5.9,-3.1M675.4,188.7l-0.2,-6.7 M682.4,207.4L685.3,221.1M685.3,221.1l2.3,-6.3M685.3,221.1l-4.7,-4.8 M682.4,238.3L691.2,249.2M691.2,249.2l-0.8,-6.7M691.2,249.2l-6.3,-2.2 M682.4,269.2L691.6,279.8M691.6,279.8l-1.0,-6.6M691.6,279.8l-6.4,-2.0 M682.4,300.1L693.1,309.1M693.1,309.1l-2.1,-6.4M693.1,309.1l-6.6,-0.9 M682.4,331.0L691.4,341.7M691.4,341.7l-0.9,-6.6M691.4,341.7l-6.4,-2.1 M682.4,361.9L688.3,374.5M688.3,374.5l0.8,-6.7M688.3,374.5l-5.6,-3.6 M682.4,392.7L687.7,405.7M687.7,405.7l1.2,-6.6M687.7,405.7l-5.4,-3.9 M682.4,547.2L690.2,558.8M690.2,558.8l-0.2,-6.7M690.2,558.8l-6.1,-2.8 M708.9,83.9L713.9,97.0M713.9,97.0l1.3,-6.6M713.9,97.0l-5.4,-4.0 M708.9,114.8L708.9,128.8M708.9,128.8l3.6,-5.7M708.9,128.8l-3.6,-5.7 M708.9,145.7L706.0,159.3M706.0,159.3l4.7,-4.8M706.0,159.3l-2.3,-6.3 M708.9,176.5L704.8,189.9M704.8,189.9l5.1,-4.4M704.8,189.9l-1.7,-6.5 M708.9,207.4L704.6,220.7M704.6,220.7l5.1,-4.3M704.6,220.7l-1.6,-6.5 M708.9,238.3L717.4,249.5M717.4,249.5l-0.6,-6.7M717.4,249.5l-6.3,-2.4 M708.9,269.2L718.3,279.6M718.3,279.6l-1.2,-6.6M718.3,279.6l-6.4,-1.8 M708.9,300.1L718.8,310.0M718.8,310.0l-1.5,-6.5M718.8,310.0l-6.5,-1.5 M708.9,331.0L718.8,340.9M718.8,340.9l-1.5,-6.5M718.8,340.9l-6.5,-1.5 M708.9,361.9L719.6,370.8M719.6,370.8l-2.1,-6.4M719.6,370.8l-6.6,-0.9 M735.4,53.0L746.9,61.0M746.9,61.0l-2.6,-6.2M746.9,61.0l-6.7,-0.4 M735.4,83.9L744.2,94.8M744.2,94.8l-0.8,-6.7M744.2,94.8l-6.3,-2.2 M735.4,114.8L740.2,127.9M740.2,127.9l1.4,-6.6M740.2,127.9l-5.3,-4.1 M735.4,145.7L736.9,159.6M736.9,159.6l2.9,-6.0M736.9,159.6l-4.1,-5.3 M735.4,176.5L734.0,190.5M734.0,190.5l4.1,-5.3M734.0,190.5l-2.9,-6.0 M735.4,207.4L734.0,221.3M734.0,221.3l4.1,-5.3M734.0,221.3l-2.9,-6.0 M735.4,238.3L734.0,252.2M734.0,252.2l4.1,-5.3M734.0,252.2l-2.9,-6.0 M735.4,269.2L744.6,279.8M744.6,279.8l-1.0,-6.6M744.6,279.8l-6.4,-2.0 M735.4,300.1L745.3,310.0M745.3,310.0l-1.5,-6.5M745.3,310.0l-6.5,-1.5 M735.4,331.0L746.2,340.0M746.2,340.0l-2.1,-6.4M746.2,340.0l-6.6,-0.9 M735.4,516.3L747.6,523.3M747.6,523.3l-3.1,-5.9M747.6,523.3l-6.7,0.2 M735.4,547.2L747.1,554.9M747.1,554.9l-2.8,-6.1M747.1,554.9l-6.7,-0.2" stroke="#1a1a1a" stroke-width="0.95" fill="none"/><path d="M311.4,269.2L316.3,282.3M316.3,282.3l1.3,-6.6M316.3,282.3l-5.3,-4.0 M311.4,361.9L313.3,375.7M313.3,375.7l2.7,-6.1M313.3,375.7l-4.3,-5.1 M337.9,238.3L343.1,251.3M343.1,251.3l1.2,-6.6M343.1,251.3l-5.4,-3.9 M364.4,176.5L363.1,190.5M363.1,190.5l4.0,-5.4M363.1,190.5l-3.0,-6.0 M364.4,238.3L368.5,251.7M368.5,251.7l1.7,-6.5M368.5,251.7l-5.1,-4.4 M364.4,454.5L361.7,468.3M361.7,468.3l4.6,-4.9M361.7,468.3l-2.4,-6.3 M364.4,547.2L359.9,560.4M359.9,560.4l5.2,-4.3M359.9,560.4l-1.6,-6.5 M390.9,145.7L393.3,159.4M393.3,159.4l2.5,-6.2M393.3,159.4l-4.5,-5.0 M496.9,176.5L506.4,186.8M506.4,186.8l-1.3,-6.6M506.4,186.8l-6.5,-1.7 M496.9,207.4L504.0,219.5M504.0,219.5l0.2,-6.7M504.0,219.5l-5.9,-3.1 M523.4,361.9L531.4,373.3M531.4,373.3l-0.3,-6.7M531.4,373.3l-6.2,-2.6 M549.9,269.2L559.7,279.2M559.7,279.2l-1.5,-6.5M559.7,279.2l-6.5,-1.5 M549.9,331.0L554.8,344.1M554.8,344.1l1.3,-6.6M554.8,344.1l-5.3,-4.1 M549.9,361.9L556.3,374.3M556.3,374.3l0.5,-6.7M556.3,374.3l-5.8,-3.4 M549.9,423.6L554.7,436.8M554.7,436.8l1.4,-6.6M554.7,436.8l-5.3,-4.1 M629.4,454.5L635.6,467.1M635.6,467.1l0.7,-6.7M635.6,467.1l-5.7,-3.5 M655.9,423.6L664.1,434.9M664.1,434.9l-0.5,-6.7M664.1,434.9l-6.2,-2.5 M682.4,485.4L689.8,497.3M689.8,497.3l0.0,-6.7M689.8,497.3l-6.0,-3.0 M682.4,516.3L690.4,527.8M690.4,527.8l-0.3,-6.7M690.4,527.8l-6.2,-2.6 M708.9,392.7L717.7,403.6M717.7,403.6l-0.8,-6.6M717.7,403.6l-6.3,-2.2 M708.9,547.2L718.6,557.3M718.6,557.3l-1.3,-6.6M718.6,557.3l-6.5,-1.7 M735.4,361.9L745.8,371.2M745.8,371.2l-1.8,-6.4M745.8,371.2l-6.6,-1.2" stroke="#3a3a3a" stroke-width="0.85" fill="none"/>
<polygon points="46.0,546.0 46.0,52.0 712.0,52.0 712.4,54.0 708.4,58.0 702.2,60.2 696.0,61.2 692.0,64.2 688.0,69.3 683.9,72.4 679.8,76.5 677.8,80.6 674.7,84.7 671.6,88.7 671.6,94.9 674.7,99.0 673.7,105.0 672.7,111.2 673.7,117.3 671.6,121.4 665.5,124.4 659.4,127.5 655.3,131.6 651.2,135.7 645.1,137.7 639.0,141.8 632.9,145.9 626.7,150.0 618.6,154.0 612.4,156.1 606.3,158.1 602.2,161.2 598.2,164.2 595.1,168.3 594.0,172.0 592.0,179.0 590.0,184.0 594.0,188.0 600.0,192.0 608.0,196.0 616.0,204.0 624.0,210.0 626.0,214.0 628.0,220.0 632.0,228.0 638.0,236.0 644.0,242.0 650.0,250.0 656.0,258.0 660.0,266.0 663.0,274.0 664.0,280.0 664.0,286.0 663.0,296.0 661.0,306.0 662.0,316.0 666.0,320.0 664.0,326.0 662.0,334.0 660.0,342.0 658.0,348.0 654.0,352.0 650.0,354.0 646.0,356.0 640.0,358.0 634.0,360.0 626.0,359.0 620.0,360.0 612.0,360.0 604.0,362.0 596.0,364.0 590.0,368.0 586.0,372.0 580.0,376.0 576.0,380.0 572.0,384.0 568.0,388.0 562.0,386.0 560.0,380.0 558.0,372.0 556.0,364.0 554.0,356.0 555.0,348.0 556.5,343.0 559.5,337.0 564.0,331.0 566.0,325.0 570.0,320.0 563.3,316.7 560.8,310.0 560.0,303.3 555.0,298.3 550.0,293.3 548.3,286.7 551.7,280.0 556.0,277.0 559.0,272.0 560.0,266.0 559.0,260.0 557.0,254.0 554.0,249.0 550.0,246.0 546.0,246.0 540.0,242.0 534.0,240.0 528.0,238.0 526.0,245.0 518.0,249.0 514.0,243.0 508.0,241.0 512.0,236.0 504.0,234.5 495.0,232.0 502.0,228.0 502.5,222.0 505.0,215.0 510.0,212.0 522.0,212.0 528.0,211.0 520.0,207.5 513.0,205.0 511.5,200.0 513.8,201.2 515.6,193.8 518.4,188.1 521.2,184.4 520.3,178.8 521.2,174.0 517.5,174.0 511.9,171.2 504.4,167.5 496.9,165.6 493.0,169.4 491.2,163.8 487.5,160.0 484.7,157.2 483.8,153.4 480.0,158.1 472.5,160.0 465.0,161.0 460.0,159.2 456.7,160.8 451.7,164.2 446.7,164.2 443.3,165.8 440.0,168.8 435.0,169.6 430.0,171.7 425.0,174.2 418.3,176.7 412.5,180.0 408.3,184.2 404.2,190.0 400.0,194.0 396.0,199.3 389.0,202.8 382.0,205.4 375.0,207.1 370.6,205.4 368.0,201.9 369.8,199.3 373.3,196.6 378.5,195.8 383.8,194.0 387.3,190.5 385.5,187.0 389.0,183.5 394.3,182.6 397.8,180.0 392.5,180.0 387.3,179.1 382.0,180.0 376.8,180.9 374.1,178.3 375.0,174.8 378.5,171.3 381.2,167.8 382.0,162.5 385.5,159.0 390.8,155.5 396.0,150.3 401.3,145.0 406.5,139.8 410.0,132.8 406.5,129.3 401.3,125.8 396.0,122.3 394.3,117.0 394.3,115.3 390.8,118.8 383.8,119.6 375.0,117.9 368.0,119.6 362.8,123.1 359.3,127.5 355.8,132.8 350.5,138.0 347.0,143.3 342.0,147.5 335.0,152.0 328.8,156.2 322.5,160.0 316.2,162.5 312.5,164.5 308.0,168.0 305.0,171.0 303.8,175.0 301.9,181.2 298.8,183.8 295.0,187.5 291.2,190.0 286.2,188.8 280.0,190.0 272.5,190.6 267.5,193.0 265.0,191.2 261.2,188.8 256.2,188.1 251.9,190.0 248.8,193.0 248.8,196.2 246.2,200.0 243.8,205.0 242.5,211.2 244.4,216.2 247.5,221.2 252.5,226.2 260.0,231.2 267.5,232.5 273.8,233.8 278.8,235.0 285.0,233.1 291.2,232.5 293.8,236.2 296.2,240.0 298.8,243.8 302.5,247.5 300.0,252.5 295.0,255.0 293.8,262.5 297.5,268.8 305.0,272.5 312.5,272.5 320.0,270.0 325.0,265.0 330.0,262.5 337.5,257.5 340.0,252.5 342.5,248.8 347.5,246.2 355.0,245.0 362.5,247.5 370.0,250.0 375.0,255.0 380.0,258.8 387.5,260.0 395.0,260.0 400.0,257.5 405.0,258.8 410.0,261.2 416.2,262.5 423.8,263.0 421.2,267.5 418.8,272.5 416.2,277.5 415.0,282.5 410.0,285.0 405.0,283.8 400.0,282.5 395.0,284.5 390.0,286.2 385.0,287.5 380.0,287.5 375.0,291.2 370.0,293.8 365.0,295.0 360.0,295.0 356.2,296.2 355.0,300.0 357.5,302.5 360.0,305.0 355.0,307.5 347.5,310.0 342.5,312.5 340.0,315.0 340.0,317.5 336.2,320.0 333.8,322.5 330.0,326.2 329.5,330.0 325.0,333.0 320.5,336.0 316.0,339.0 313.8,344.2 309.2,348.8 307.8,354.0 302.5,359.2 301.0,363.0 301.0,369.0 302.5,372.8 310.0,373.5 316.0,379.5 323.5,382.5 329.5,385.5 337.0,389.2 340.0,393.0 343.0,400.5 346.0,411.0 348.5,420.0 352.0,428.0 354.5,435.0 358.0,441.0 359.5,447.0 359.0,453.5 361.0,457.0 363.0,460.0 370.5,463.0 376.5,466.0 378.8,469.0 378.0,473.5 379.5,477.0 385.5,480.0 391.5,484.0 394.5,487.8 396.8,493.0 396.0,496.8 390.0,496.0 384.0,493.8 378.0,491.5 373.5,490.8 370.5,492.2 366.0,492.2 361.5,489.2 360.0,485.5 355.5,483.2 349.5,481.8 343.5,483.2 339.0,487.0 333.0,487.8 328.5,485.5 324.8,479.5 322.5,475.0 319.5,472.0 316.5,471.2 317.0,474.0 323.0,479.0 327.0,484.5 336.0,489.0 345.0,485.5 352.5,485.0 356.5,487.0 358.0,490.5 363.0,494.5 370.5,498.5 376.5,504.0 382.5,509.5 387.0,514.5 391.5,519.0 396.0,523.5 399.0,527.5 398.2,530.5 393.0,532.0 384.0,533.5 376.5,535.8 370.5,539.5 366.0,543.2 363.0,546.0" fill="#aaaaaa" stroke="#000" stroke-width="1.1" stroke-linejoin="round"/>
<polygon points="753.0,369.6 747.8,372.3 742.6,374.9 739.0,377.5 733.8,382.8 726.8,386.3 719.8,386.3 715.4,389.8 714.6,395.0 716.3,401.0 721.6,403.8 728.6,402.0 739.0,402.0 746.0,402.9 753.0,402.0" fill="#aaaaaa" stroke="#000" stroke-width="1.1" stroke-linejoin="round"/>
<polygon points="714.6,404.9 706.3,407.6 698.0,410.4 692.5,414.5 684.2,417.3 675.9,421.4 670.4,428.3 667.6,433.9 671.8,438.0 670.4,443.5 674.5,449.0 673.1,456.0 675.9,462.9 681.4,461.5 684.2,468.4 681.4,475.3 684.2,482.2 685.6,490.5 688.3,498.8 689.7,507.0 695.2,512.6 703.5,515.4 706.3,520.9 711.8,523.6 717.3,520.9 722.9,518.1 728.4,515.4 733.9,509.8 738.1,501.5 739.4,490.5 742.2,482.2 745.0,471.2 750.5,462.9 753.0,457.3 753.0,427.0 745.0,432.5 738.1,432.5 735.3,427.0 740.8,421.4 745.0,418.7 742.2,413.1 733.9,410.4 722.9,410.4 717.3,407.6" fill="#aaaaaa" stroke="#000" stroke-width="1.1" stroke-linejoin="round"/>
<polygon points="664.0,374.0 665.0,380.0 662.0,386.0 660.0,392.0 658.0,398.0 654.0,399.0 653.0,394.0 655.0,388.0 658.0,382.0 660.0,376.0" fill="#aaaaaa" stroke="#000" stroke-width="0.9" stroke-linejoin="round"/>
<polygon points="371.2,492.2 375.0,490.5 384.0,492.5 393.0,496.5 398.2,500.5 399.8,504.2 397.5,508.0 393.0,507.2 385.5,503.5 378.0,499.0 372.8,495.2" fill="#aaaaaa" stroke="#000" stroke-width="0.9" stroke-linejoin="round"/>
<polygon points="386.0,508.5 390.0,509.5 394.0,511.5 394.0,513.5 390.0,512.5 386.0,510.5" fill="#aaaaaa" stroke="#000" stroke-width="0.9" stroke-linejoin="round"/>
<polygon points="672.0,410.0 675.0,409.5 676.5,412.0 674.0,414.5 671.5,413.0" fill="#aaaaaa" stroke="#000" stroke-width="0.9" stroke-linejoin="round"/>
<polygon points="634.0,458.0 638.0,452.0 642.0,449.0 646.0,446.0 650.0,441.0 653.0,443.0 651.0,449.0 647.0,453.0 642.0,456.0 638.0,461.0 634.0,461.0" fill="#aaaaaa" stroke="#000" stroke-width="0.9" stroke-linejoin="round"/>
<polygon points="718.0,534.0 721.0,532.0 721.5,538.0 719.0,546.0 716.5,546.0 717.0,540.0" fill="#aaaaaa" stroke="#000" stroke-width="0.9" stroke-linejoin="round"/>
<polygon points="574.0,423.9 574.0,425.6 573.0,427.4 571.2,429.2 568.7,431.0 565.6,432.4 562.1,433.6 558.6,434.3 555.2,434.6 552.1,434.4 549.6,433.7 547.9,432.6 547.0,431.1 547.0,429.4 548.0,427.6 549.8,425.8 552.3,424.0 555.4,422.6 558.9,421.4 562.4,420.7 565.8,420.4 568.9,420.6 571.4,421.3 573.1,422.4" fill="#aaaaaa" stroke="#000" stroke-width="1.1" stroke-linejoin="round"/>
<polygon points="716.2,258.5 715.8,259.6 714.7,260.2 713.3,260.2 712.2,259.6 711.8,258.5 712.2,257.4 713.3,256.8 714.7,256.8 715.8,257.4" fill="#aaaaaa" stroke="#000" stroke-width="0.9" stroke-linejoin="round"/>
<polygon points="554.5,380.3 554.6,381.8 553.5,383.8 551.5,385.6 549.0,386.9 546.8,387.3 545.5,386.7 545.4,385.2 546.5,383.2 548.5,381.4 551.0,380.1 553.2,379.7" fill="#aaaaaa" stroke="#000" stroke-width="0.9" stroke-linejoin="round"/>
<polygon points="552.9,358.2 552.0,359.4 549.8,359.9 547.4,359.4 545.6,358.3 545.1,356.8 546.0,355.6 548.2,355.1 550.6,355.6 552.4,356.7" fill="#aaaaaa" stroke="#000" stroke-width="0.9" stroke-linejoin="round"/>
<polygon points="546.2,369.5 545.6,371.7 544.0,373.1 542.0,373.1 540.4,371.7 539.8,369.5 540.4,367.3 542.0,365.9 544.0,365.9 545.6,367.3" fill="#aaaaaa" stroke="#000" stroke-width="0.9" stroke-linejoin="round"/>
<polygon points="545.2,378.5 544.7,379.7 543.5,380.2 542.3,379.7 541.8,378.5 542.3,377.3 543.5,376.8 544.7,377.3" fill="#aaaaaa" stroke="#000" stroke-width="0.9" stroke-linejoin="round"/>
<polygon points="591.8,381.5 590.2,382.9 587.9,383.2 585.5,382.5 583.6,380.8 582.8,378.6 583.2,376.5 584.8,375.1 587.1,374.8 589.5,375.5 591.4,377.2 592.2,379.4" fill="#aaaaaa" stroke="#000" stroke-width="0.9" stroke-linejoin="round"/>
<polygon points="604.4,370.6 603.5,373.2 601.9,375.0 600.0,375.4 598.4,374.4 597.5,372.2 597.6,369.4 598.5,366.8 600.1,365.0 602.0,364.6 603.6,365.6 604.5,367.8" fill="#aaaaaa" stroke="#000" stroke-width="0.9" stroke-linejoin="round"/>
<polygon points="605.1,381.0 604.6,381.8 603.5,382.1 602.4,381.8 601.9,381.0 602.4,380.2 603.5,379.9 604.6,380.2" fill="#aaaaaa" stroke="#000" stroke-width="0.9" stroke-linejoin="round"/>
<polygon points="580.0,388.5 579.6,389.6 578.5,390.0 577.4,389.6 577.0,388.5 577.4,387.4 578.5,387.0 579.6,387.4" fill="#aaaaaa" stroke="#000" stroke-width="0.9" stroke-linejoin="round"/>
<polygon points="596.1,384.5 595.6,385.5 594.5,385.9 593.4,385.5 592.9,384.5 593.4,383.5 594.5,383.1 595.6,383.5" fill="#aaaaaa" stroke="#000" stroke-width="0.9" stroke-linejoin="round"/>
<polygon points="558.0,387.5 557.4,388.5 556.0,388.9 554.6,388.5 554.0,387.5 554.6,386.5 556.0,386.1 557.4,386.5" fill="#aaaaaa" stroke="#000" stroke-width="0.9" stroke-linejoin="round"/>
<polygon points="603.0,367.0 602.4,368.5 600.9,369.4 599.1,369.4 597.6,368.5 597.0,367.0 597.6,365.5 599.1,364.6 600.9,364.6 602.4,365.5" fill="#aaaaaa" stroke="#000" stroke-width="0.9" stroke-linejoin="round"/>
<polygon points="614.0,366.0 613.4,368.9 611.9,370.8 610.1,370.8 608.6,368.9 608.0,366.0 608.6,363.1 610.1,361.2 611.9,361.2 613.4,363.1" fill="#aaaaaa" stroke="#000" stroke-width="0.9" stroke-linejoin="round"/>
<polygon points="636.5,365.0 635.6,367.4 633.4,368.8 630.6,368.8 628.4,367.4 627.5,365.0 628.4,362.6 630.6,361.2 633.4,361.2 635.6,362.6" fill="#aaaaaa" stroke="#000" stroke-width="0.9" stroke-linejoin="round"/>
<polygon points="622.0,368.0 621.4,369.1 620.0,369.5 618.6,369.1 618.0,368.0 618.6,366.9 620.0,366.5 621.4,366.9" fill="#aaaaaa" stroke="#000" stroke-width="0.9" stroke-linejoin="round"/>
<polygon points="645.0,360.0 644.4,361.4 643.0,362.0 641.6,361.4 641.0,360.0 641.6,358.6 643.0,358.0 644.4,358.6" fill="#aaaaaa" stroke="#000" stroke-width="0.9" stroke-linejoin="round"/>
<polygon points="555.3,258.1 555.2,259.2 554.2,260.2 552.8,260.7 551.4,260.6 550.7,259.9 550.8,258.8 551.8,257.8 553.2,257.3 554.6,257.4" fill="#aaaaaa" stroke="#000" stroke-width="0.9" stroke-linejoin="round"/>
<polygon points="555.1,268.5 554.6,269.6 553.5,270.1 552.4,269.6 551.9,268.5 552.4,267.4 553.5,266.9 554.6,267.4" fill="#aaaaaa" stroke="#000" stroke-width="0.9" stroke-linejoin="round"/>
<polygon points="550.5,254.0 550.1,255.1 549.0,255.5 547.9,255.1 547.5,254.0 547.9,252.9 549.0,252.5 550.1,252.9" fill="#aaaaaa" stroke="#000" stroke-width="0.9" stroke-linejoin="round"/>
<polygon points="549.3,291.0 548.1,293.2 546.4,294.6 544.8,294.7 543.6,293.6 543.2,291.5 543.7,289.0 544.9,286.8 546.6,285.4 548.2,285.3 549.4,286.4 549.8,288.5" fill="#aaaaaa" stroke="#000" stroke-width="0.9" stroke-linejoin="round"/>
<polygon points="551.5,300.0 551.1,301.8 550.1,302.9 548.9,302.9 547.9,301.8 547.5,300.0 547.9,298.2 548.9,297.1 550.1,297.1 551.1,298.2" fill="#aaaaaa" stroke="#000" stroke-width="0.9" stroke-linejoin="round"/>
<polygon points="554.5,306.0 554.1,307.1 553.0,307.5 551.9,307.1 551.5,306.0 551.9,304.9 553.0,304.5 554.1,304.9" fill="#aaaaaa" stroke="#000" stroke-width="0.9" stroke-linejoin="round"/>
<polygon points="553.6,340.0 553.1,341.6 552.0,342.2 550.9,341.6 550.4,340.0 550.9,338.4 552.0,337.8 553.1,338.4" fill="#aaaaaa" stroke="#000" stroke-width="0.9" stroke-linejoin="round"/>
<polygon points="549.6,350.0 549.1,351.1 548.0,351.6 546.9,351.1 546.4,350.0 546.9,348.9 548.0,348.4 549.1,348.9" fill="#aaaaaa" stroke="#000" stroke-width="0.9" stroke-linejoin="round"/>
<polygon points="542.6,362.0 542.1,363.1 541.0,363.6 539.9,363.1 539.4,362.0 539.9,360.9 541.0,360.4 542.1,360.9" fill="#aaaaaa" stroke="#000" stroke-width="0.9" stroke-linejoin="round"/>
<polygon points="558.3,325.0 557.9,325.9 557.0,326.3 556.1,325.9 555.7,325.0 556.1,324.1 557.0,323.7 557.9,324.1" fill="#aaaaaa" stroke="#000" stroke-width="0.9" stroke-linejoin="round"/>
<polygon points="498.5,238.0 498.1,238.8 497.0,239.2 495.9,238.8 495.5,238.0 495.9,237.2 497.0,236.8 498.1,237.2" fill="#aaaaaa" stroke="#000" stroke-width="0.9" stroke-linejoin="round"/>
<polygon points="505.6,246.0 505.1,247.1 504.0,247.6 502.9,247.1 502.4,246.0 502.9,244.9 504.0,244.4 505.1,244.9" fill="#aaaaaa" stroke="#000" stroke-width="0.9" stroke-linejoin="round"/>
<polygon points="493.3,227.0 492.9,227.9 492.0,228.3 491.1,227.9 490.7,227.0 491.1,226.1 492.0,225.7 492.9,226.1" fill="#aaaaaa" stroke="#000" stroke-width="0.9" stroke-linejoin="round"/>
<polygon points="428.5,183.0 428.1,183.8 427.0,184.2 425.9,183.8 425.5,183.0 425.9,182.2 427.0,181.8 428.1,182.2" fill="#aaaaaa" stroke="#000" stroke-width="0.9" stroke-linejoin="round"/>
<polygon points="425.0,185.2 424.8,186.2 423.5,187.4 421.6,188.5 419.9,189.0 419.0,188.8 419.2,187.8 420.5,186.6 422.4,185.5 424.1,185.0" fill="#aaaaaa" stroke="#000" stroke-width="0.9" stroke-linejoin="round"/>
<polygon points="471.3,176.0 470.9,176.9 470.0,177.3 469.1,176.9 468.7,176.0 469.1,175.1 470.0,174.7 470.9,175.1" fill="#aaaaaa" stroke="#000" stroke-width="0.9" stroke-linejoin="round"/>
<polygon points="680.8,413.0 680.3,414.8 679.0,415.5 677.7,414.8 677.2,413.0 677.7,411.2 679.0,410.5 680.3,411.2" fill="#aaaaaa" stroke="#000" stroke-width="0.9" stroke-linejoin="round"/>
<polygon points="651.2,388.0 650.8,388.8 650.0,389.2 649.2,388.8 648.8,388.0 649.2,387.2 650.0,386.8 650.8,387.2" fill="#aaaaaa" stroke="#000" stroke-width="0.9" stroke-linejoin="round"/>
<polygon points="661.4,432.0 661.0,433.0 660.0,433.4 659.0,433.0 658.6,432.0 659.0,431.0 660.0,430.6 661.0,431.0" fill="#aaaaaa" stroke="#000" stroke-width="0.9" stroke-linejoin="round"/>
<polygon points="669.4,446.0 669.0,447.0 668.0,447.4 667.0,447.0 666.6,446.0 667.0,445.0 668.0,444.6 669.0,445.0" fill="#aaaaaa" stroke="#000" stroke-width="0.9" stroke-linejoin="round"/>
<polygon points="684.1,457.8 682.9,459.8 681.3,460.8 680.1,460.3 679.5,458.6 679.9,456.2 681.1,454.2 682.7,453.2 683.9,453.7 684.5,455.4" fill="#aaaaaa" stroke="#000" stroke-width="0.9" stroke-linejoin="round"/>
<polygon points="704.2,489.7 702.9,491.2 701.6,491.4 701.2,490.2 701.8,488.3 703.1,486.8 704.4,486.6 704.8,487.8" fill="#aaaaaa" stroke="#000" stroke-width="0.9" stroke-linejoin="round"/>
<polygon points="688.0,438.0 695.0,436.6 698.0,443.5 703.5,454.6 705.0,463.0 701.0,466.0 696.0,464.0 692.0,470.0 688.0,476.0 684.5,471.0 686.0,462.0 683.0,454.0 689.0,450.0 689.7,443.5" fill="#fff" stroke="#000" stroke-width="1"/>
<polygon points="703.0,498.0 708.0,496.0 710.0,500.0 707.0,505.0 709.0,512.0 708.0,518.0 704.0,516.0 703.0,508.0" fill="#fff" stroke="#000" stroke-width="1"/>
<polygon points="689.3,466.9 688.1,468.9 686.4,469.8 685.0,469.3 684.3,467.5 684.7,465.1 685.9,463.1 687.6,462.2 689.0,462.7 689.7,464.5" fill="#aaaaaa" stroke="#000" stroke-width="0.9"/>
<polygon points="685.8,474.0 685.3,475.8 684.0,476.5 682.7,475.8 682.2,474.0 682.7,472.2 684.0,471.5 685.3,472.2" fill="#aaaaaa" stroke="#000" stroke-width="0.9"/>
<polyline points="186.6,92.5 181.0,87.6 179.0,82.0 181.0,70.7 184.7,61.4 196.0,57.6 207.0,61.4 212.9,70.7 207.2,80.0 205.4,85.7 218.5,87.6 229.7,91.4 233.5,100.8 241.0,112.0 250.4,117.6 257.9,121.4 263.5,130.8 267.2,136.4 269.1,145.8 274.7,149.5 282.2,157.0 287.8,164.5 293.5,173.9 301.0,179.5" fill="none" stroke="#4a5ee8" stroke-width="1"/><polyline points="59.1,188.9 68.5,181.4 83.5,172.0 94.8,162.6 106.0,157.0 121.0,153.2 136.0,145.8 151.0,141.2 169.7,142.0 175.4,149.5 184.7,155.1 194.1,164.5 196.0,173.9 203.5,179.5 218.5,183.2 229.7,188.9 237.2,194.5 248.5,196.4" fill="none" stroke="#4a5ee8" stroke-width="1"/><polyline points="293.8,109.0 302.5,105.8 307.5,105.0 315.0,108.2 321.2,109.0 327.5,102.0 333.8,97.0 342.5,93.2 347.5,89.5 355.0,87.0 362.5,83.2 367.5,87.0 372.5,90.8 378.8,93.2 380.0,98.2 377.5,104.5 380.0,109.5 385.0,113.2 387.5,118.2" fill="none" stroke="#4a5ee8" stroke-width="1"/><polyline points="407.5,127.0 403.8,122.0 410.0,117.0 413.8,109.5 417.5,102.0 422.5,94.5 425.0,84.5 430.0,77.0 437.5,69.5 447.5,67.0 455.0,63.2 465.0,59.5 467.5,54.5 465.0,52.0" fill="none" stroke="#4a5ee8" stroke-width="1"/><polyline points="49.8,202.0 46.0,206.0" fill="none" stroke="#4a5ee8" stroke-width="1"/><polyline points="46.0,239.5 61.0,237.6 64.8,247.0 57.2,262.0 49.8,273.2 46.0,275.0" fill="none" stroke="#4a5ee8" stroke-width="1"/><polyline points="290.0,243.0 286.0,247.0 282.2,250.0 271.0,255.6 256.0,263.1 241.0,272.5 229.7,280.0 218.5,289.4 207.2,298.8 196.0,310.0 184.7,321.2 173.5,328.8 162.2,336.2 151.0,347.5 143.5,362.5 132.2,364.4 117.2,362.5 98.5,360.6 94.8,356.9 83.5,358.8 74.1,356.9 64.8,340.0 57.2,317.5 59.1,296.9" fill="none" stroke="#4a5ee8" stroke-width="1"/><polyline points="46.0,358.8 61.0,364.4 76.0,370.0 91.0,364.4 98.5,360.6" fill="none" stroke="#4a5ee8" stroke-width="1"/><polyline points="77.9,276.2 79.8,287.5 94.8,304.4 121.0,308.1 139.8,311.9 158.5,306.2 169.7,291.2 177.2,285.6" fill="none" stroke="#4a5ee8" stroke-width="1"/><polyline points="276.6,315.6 286.0,325.0 289.7,336.2 286.0,351.2 278.5,362.5 280.4,371.9 301.0,371.9" fill="none" stroke="#4a5ee8" stroke-width="1"/><polyline points="59.1,411.2 83.5,415.0 102.2,416.9 121.0,415.0 136.0,418.8 154.8,426.2 173.5,437.5 186.2,447.0 196.9,459.8 203.2,466.0 216.0,457.6 228.7,447.0 245.8,444.9 262.7,436.4 277.6,434.2 284.0,440.6 301.0,436.4 303.1,451.2 307.4,461.9 315.9,470.4" fill="none" stroke="#4a5ee8" stroke-width="1"/><polyline points="107.6,468.2 118.2,470.4 126.8,472.5 143.8,472.5 165.0,470.4 182.0,461.9 196.9,461.9 203.2,466.0" fill="none" stroke="#4a5ee8" stroke-width="1"/><polyline points="46.0,483.1 54.5,487.4 60.9,502.2 65.1,519.2 69.4,538.4 73.6,546.0" fill="none" stroke="#4a5ee8" stroke-width="1"/><polyline points="105.0,546.0 110.0,541.0 118.0,542.0 126.0,540.5 134.0,542.0 143.8,542.6 148.0,546.0" fill="none" stroke="#4a5ee8" stroke-width="1"/><polyline points="230.9,546.0 250.0,525.6 258.5,508.6 271.2,500.1 277.6,485.2 288.2,474.6 305.2,474.6 315.9,472.5" fill="none" stroke="#4a5ee8" stroke-width="1"/><polyline points="349.9,519.2 360.5,512.9 373.2,512.9 381.8,515.0" fill="none" stroke="#4a5ee8" stroke-width="1"/><polyline points="557.0,254.0 567.0,252.5 576.0,257.0 585.0,255.5 594.0,258.5 600.0,264.5 609.0,278.0 618.0,279.5 627.0,275.0 630.0,267.5 636.0,261.5 642.0,261.5" fill="none" stroke="#4a5ee8" stroke-width="1"/><polyline points="651.0,278.0 646.5,287.0 642.0,296.0 630.0,297.5 621.0,299.0 622.5,308.0 625.5,320.0 627.0,329.0 625.5,341.0 633.0,345.5 642.0,347.0 646.5,353.0 648.0,357.5" fill="none" stroke="#4a5ee8" stroke-width="1"/><polyline points="614.8,53.0 614.8,58.0 616.1,65.8" fill="none" stroke="#4a5ee8" stroke-width="1"/><polyline points="482.8,153.8 488.2,145.5 496.5,140.0 504.8,134.5 513.0,129.0 526.8,122.1 535.0,118.0 543.2,112.5 551.5,105.6 558.4,98.8 562.5,87.8 566.6,83.6 573.5,81.7 579.0,87.8 584.5,93.2 595.5,94.6 606.5,96.0 616.1,98.8 621.6,91.9 617.5,82.2 613.4,74.0 620.2,72.6 634.0,71.2 645.0,68.5 653.2,63.0 658.8,56.1 667.0,54.8 672.5,53.4" fill="none" stroke="#1b2f9e" stroke-width="1.4"/><polyline points="556.0,250.0 564.0,251.0 567.0,242.0 570.0,234.5 579.0,228.5 594.0,225.5 609.0,225.5 618.0,221.0 621.0,215.0 622.5,212.0" fill="none" stroke="#000" stroke-width="1.2"/>
<line x1="398" y1="535.5" x2="754" y2="535.5" stroke="#000" stroke-width="1"/>
<text class="t" x="381.5" y="545.3" font-size="10.5" fill="#222" textLength="29" lengthAdjust="spacingAndGlyphs">+018)</text>
<circle cx="376" cy="541.5" r="2.3" fill="none" stroke="#333" stroke-width="0.8"/>
</g>
<text class="t" x="50.6" y="32" font-size="10.8" fill="#333" textLength="29.3" lengthAdjust="spacingAndGlyphs">CETA</text>
<text class="t" x="85.5" y="32" font-size="10.8" fill="#333" textLength="10.2" lengthAdjust="spacingAndGlyphs">–</text>
<text class="t" x="104.7" y="32" font-size="10.8" fill="#333" textLength="27.0" lengthAdjust="spacingAndGlyphs">Inst.</text>
<text class="t" x="138.5" y="32" font-size="10.8" fill="#333" textLength="6.7" lengthAdjust="spacingAndGlyphs">f.</text>
<text class="t" x="154.2" y="32" font-size="10.8" fill="#333" textLength="47.3" lengthAdjust="spacingAndGlyphs">Wetter–</text>
<text class="t" x="210.5" y="32" font-size="10.8" fill="#333" textLength="21.4" lengthAdjust="spacingAndGlyphs">und</text>
<text class="t" x="240.9" y="32" font-size="10.8" fill="#333" textLength="125.0" lengthAdjust="spacingAndGlyphs">Klimafolgenanalysen</text>
<text class="t" x="374.9" y="32" font-size="10.8" fill="#333" textLength="7.9" lengthAdjust="spacingAndGlyphs">–</text>
<rect x="46.5" y="38.5" width="706.5" height="14" fill="#fff" stroke="#000" stroke-width="1"/>
<text class="t" x="50.2" y="48.8" font-size="11.5" fill="#111" textLength="30.0" lengthAdjust="spacingAndGlyphs">Wave</text>
<text class="t" x="90" y="48.8" font-size="11.5" fill="#111" textLength="42.7" lengthAdjust="spacingAndGlyphs">PERIOD</text>
<text class="t" x="147.7" y="48.8" font-size="11.5" fill="#111" textLength="5.3" lengthAdjust="spacingAndGlyphs">s</text>
<text class="t" x="168.75" y="48.8" font-size="11.5" fill="#111" textLength="8.8" lengthAdjust="spacingAndGlyphs">&amp;</text>
<text class="t" x="186.9" y="48.8" font-size="11.5" fill="#111" textLength="53.1" lengthAdjust="spacingAndGlyphs">Direction</text>
<rect x="143.7" y="40" width="13.6" height="11.5" fill="none" stroke="#333" stroke-width="0.9"/>
<line x1="81" y1="51.3" x2="88.5" y2="51.3" stroke="#999" stroke-width="1.2"/>
<line x1="133.5" y1="51.3" x2="141" y2="51.3" stroke="#999" stroke-width="1.2"/>
<line x1="160" y1="51.3" x2="167.5" y2="51.3" stroke="#999" stroke-width="1.2"/>
<line x1="178" y1="51.3" x2="185.6" y2="51.3" stroke="#999" stroke-width="1.2"/>
<text class="t" x="625" y="49" font-size="11.5" fill="#111" textLength="70.0" lengthAdjust="spacingAndGlyphs">21.01.2026</text>
<text class="t" x="704" y="49" font-size="11.5" fill="#111" textLength="14.0" lengthAdjust="spacingAndGlyphs">12</text>
<text class="t" x="727" y="49" font-size="11.5" fill="#111" textLength="22.0" lengthAdjust="spacingAndGlyphs">UTC</text>
<rect x="46.3" y="53.0" width="706.8" height="494.2" fill="none" stroke="#000" stroke-width="2.2"/>
<line x1="42.5" y1="526.6" x2="46" y2="526.6" stroke="#000" stroke-width="1.2"/>
<text class="t" x="20.5" y="531.0" font-size="12" font-weight="bold" textLength="19.5" lengthAdjust="spacingAndGlyphs">31N</text>
<line x1="42.5" y1="485.4" x2="46" y2="485.4" stroke="#000" stroke-width="1.2"/>
<text class="t" x="20.5" y="489.8" font-size="12" font-weight="bold" textLength="19.5" lengthAdjust="spacingAndGlyphs">32N</text>
<line x1="42.5" y1="444.2" x2="46" y2="444.2" stroke="#000" stroke-width="1.2"/>
<text class="t" x="20.5" y="448.6" font-size="12" font-weight="bold" textLength="19.5" lengthAdjust="spacingAndGlyphs">33N</text>
<line x1="42.5" y1="403.0" x2="46" y2="403.0" stroke="#000" stroke-width="1.2"/>
<text class="t" x="20.5" y="407.4" font-size="12" font-weight="bold" textLength="19.5" lengthAdjust="spacingAndGlyphs">34N</text>
<line x1="42.5" y1="361.9" x2="46" y2="361.9" stroke="#000" stroke-width="1.2"/>
<text class="t" x="20.5" y="366.2" font-size="12" font-weight="bold" textLength="19.5" lengthAdjust="spacingAndGlyphs">35N</text>
<line x1="42.5" y1="320.7" x2="46" y2="320.7" stroke="#000" stroke-width="1.2"/>
<text class="t" x="20.5" y="325.1" font-size="12" font-weight="bold" textLength="19.5" lengthAdjust="spacingAndGlyphs">36N</text>
<line x1="42.5" y1="279.5" x2="46" y2="279.5" stroke="#000" stroke-width="1.2"/>
<text class="t" x="20.5" y="283.9" font-size="12" font-weight="bold" textLength="19.5" lengthAdjust="spacingAndGlyphs">37N</text>
<line x1="42.5" y1="238.3" x2="46" y2="238.3" stroke="#000" stroke-width="1.2"/>
<text class="t" x="20.5" y="242.7" font-size="12" font-weight="bold" textLength="19.5" lengthAdjust="spacingAndGlyphs">38N</text>
<line x1="42.5" y1="197.1" x2="46" y2="197.1" stroke="#000" stroke-width="1.2"/>
<text class="t" x="20.5" y="201.5" font-size="12" font-weight="bold" textLength="19.5" lengthAdjust="spacingAndGlyphs">39N</text>
<line x1="42.5" y1="155.9" x2="46" y2="155.9" stroke="#000" stroke-width="1.2"/>
<text class="t" x="20.5" y="160.3" font-size="12" font-weight="bold" textLength="19.5" lengthAdjust="spacingAndGlyphs">40N</text>
<line x1="42.5" y1="114.8" x2="46" y2="114.8" stroke="#000" stroke-width="1.2"/>
<text class="t" x="20.5" y="119.2" font-size="12" font-weight="bold" textLength="19.5" lengthAdjust="spacingAndGlyphs">41N</text>
<line x1="42.5" y1="73.6" x2="46" y2="73.6" stroke="#000" stroke-width="1.2"/>
<text class="t" x="20.5" y="78.0" font-size="12" font-weight="bold" textLength="19.5" lengthAdjust="spacingAndGlyphs">42N</text>
<line x1="46.3" y1="547" x2="46.3" y2="550.5" stroke="#000" stroke-width="1.2"/>
<text class="t" x="34.4" y="560.8" font-size="12" font-weight="bold" textLength="23.75" lengthAdjust="spacingAndGlyphs">112E</text>
<line x1="117.0" y1="547" x2="117.0" y2="550.5" stroke="#000" stroke-width="1.2"/>
<text class="t" x="105.1" y="560.8" font-size="12" font-weight="bold" textLength="23.75" lengthAdjust="spacingAndGlyphs">114E</text>
<line x1="187.7" y1="547" x2="187.7" y2="550.5" stroke="#000" stroke-width="1.2"/>
<text class="t" x="175.8" y="560.8" font-size="12" font-weight="bold" textLength="23.75" lengthAdjust="spacingAndGlyphs">116E</text>
<line x1="258.3" y1="547" x2="258.3" y2="550.5" stroke="#000" stroke-width="1.2"/>
<text class="t" x="246.4" y="560.8" font-size="12" font-weight="bold" textLength="23.75" lengthAdjust="spacingAndGlyphs">118E</text>
<line x1="329.0" y1="547" x2="329.0" y2="550.5" stroke="#000" stroke-width="1.2"/>
<text class="t" x="317.1" y="560.8" font-size="12" font-weight="bold" textLength="23.75" lengthAdjust="spacingAndGlyphs">120E</text>
<line x1="399.7" y1="547" x2="399.7" y2="550.5" stroke="#000" stroke-width="1.2"/>
<text class="t" x="387.8" y="560.8" font-size="12" font-weight="bold" textLength="23.75" lengthAdjust="spacingAndGlyphs">122E</text>
<line x1="470.4" y1="547" x2="470.4" y2="550.5" stroke="#000" stroke-width="1.2"/>
<text class="t" x="458.5" y="560.8" font-size="12" font-weight="bold" textLength="23.75" lengthAdjust="spacingAndGlyphs">124E</text>
<line x1="541.1" y1="547" x2="541.1" y2="550.5" stroke="#000" stroke-width="1.2"/>
<text class="t" x="529.2" y="560.8" font-size="12" font-weight="bold" textLength="23.75" lengthAdjust="spacingAndGlyphs">126E</text>
<line x1="611.7" y1="547" x2="611.7" y2="550.5" stroke="#000" stroke-width="1.2"/>
<text class="t" x="599.8" y="560.8" font-size="12" font-weight="bold" textLength="23.75" lengthAdjust="spacingAndGlyphs">128E</text>
<line x1="682.4" y1="547" x2="682.4" y2="550.5" stroke="#000" stroke-width="1.2"/>
<text class="t" x="670.5" y="560.8" font-size="12" font-weight="bold" textLength="23.75" lengthAdjust="spacingAndGlyphs">130E</text>
<line x1="753.1" y1="547" x2="753.1" y2="550.5" stroke="#000" stroke-width="1.2"/>
<text class="t" x="741.2" y="560.8" font-size="12" font-weight="bold" textLength="23.75" lengthAdjust="spacingAndGlyphs">132E</text>
</svg></body></html>
